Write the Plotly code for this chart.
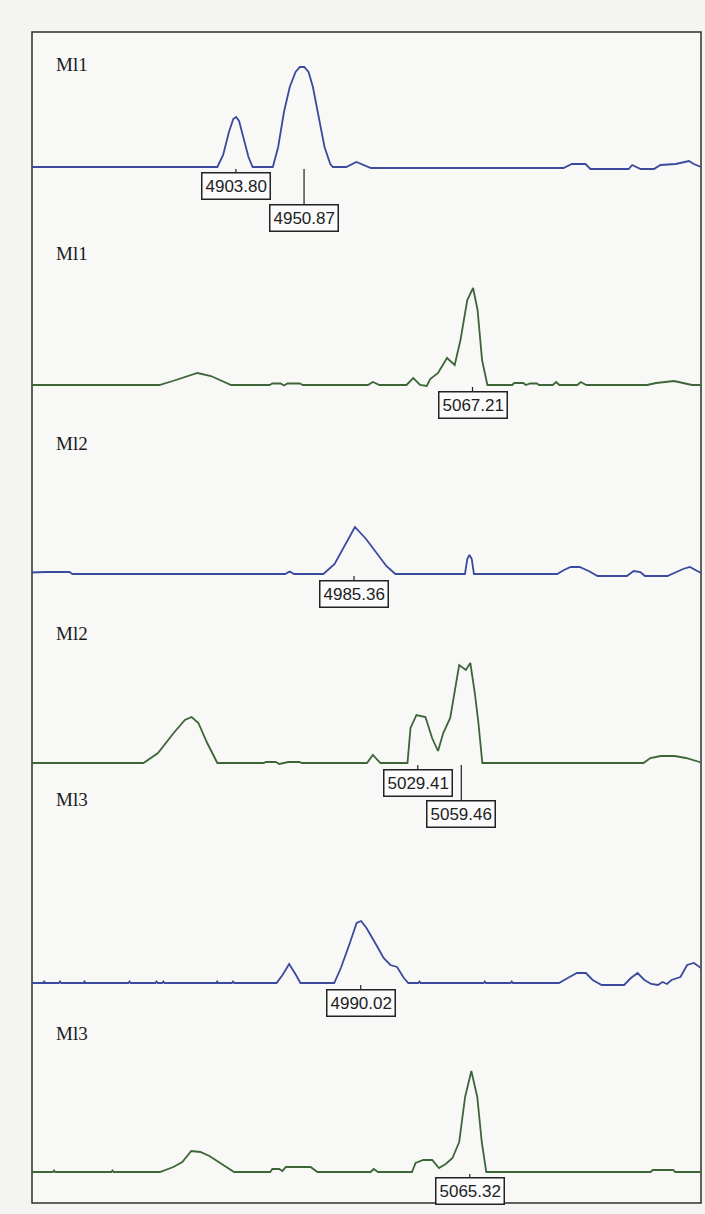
import plotly.graph_objects as go

# ---------------- data (m/z, relative intensity) ----------------
panel_labels = ["Ml1", "Ml1", "Ml2", "Ml2", "Ml3", "Ml3"]

m1 = [4763, 4891, 4895, 4899, 4902, 4904, 4906, 4909, 4912.5, 4915.4, 4929.3, 4933, 4937,
      4941, 4945, 4948, 4951, 4954, 4957, 4961, 4965, 4969, 4970.8, 4980, 4987, 4997, 5130,
      5135.9, 5145.2, 5148.6, 5175, 5177.5, 5183.3, 5192.5, 5197, 5207.5, 5216.7, 5220, 5225]
i1 = [0, 0, 12, 35, 48, 50, 46, 30, 10, 0, 0, 20, 55,
      80, 95, 100, 100, 95, 80, 50, 20, 3, 0, 0, 5, -1, -1,
      3, 3, -2, -2, 2, -2, -2, 2, 3, 6, 3, 0]

m2 = [4763, 4850.9, 4860.2, 4868, 4877.3, 4886.6, 4895.9, 4900.5, 4927, 4929, 4934.7, 4937,
      4939.4, 4948, 4950, 4995, 4998.4, 5003, 5021.6, 5026.3, 5031, 5035.6, 5038, 5043.4,
      5049.6, 5054.9, 5058.9, 5063.6, 5067.6, 5070.7, 5073.8, 5077.5, 5094.6, 5096, 5102.3,
      5104, 5107, 5111.7, 5113.2, 5122.6, 5125, 5127.2, 5139.6, 5142, 5145.8, 5187.8, 5194,
      5203.3, 5206.4, 5212.6, 5218.8, 5225]
i2 = [0, 0, 4, 8, 12, 9, 3, 0, 0, 1.5, 1.5, -0.5,
      1.5, 1.5, 0, 0, 3, 0, 0, 7, 0, -1, 6, 12,
      27, 20, 45, 85, 97, 75, 25, 0, 0, 2, 2,
      0, 1.5, 1.5, 0, 0, 3, 0, 0, 3, 0, 0, 2,
      3, 4, 2, 0, 0]

m3 = [4763, 4771.7, 4788.8, 4791, 4937.8, 4941, 4944, 4964.2, 4972, 4979.7, 4986, 4993.7,
      5001.5, 5007.7, 5013.9, 5062, 5063.6, 5065.1, 5066.7, 5068.2, 5125.7, 5130.4, 5135,
      5141.2, 5147.4, 5153.6, 5173.8, 5178.5, 5183.1, 5186.3, 5201.8, 5206.4, 5212.6, 5217.3,
      5222, 5225]
i3 = [1.5, 2, 2, 0, 0, 2.5, 0, 0, 10, 30, 47, 35,
      20, 8, 0, 0, 15, 19, 15, 0, 0, 4, 7,
      7, 3, -2, -2, 3, 2, -2, -2, 1, 5, 7,
      3, 1]

m4 = [4763, 4840, 4850, 4860.8, 4868.6, 4873.2, 4877.9, 4884, 4891, 4923, 4924.5, 4931.3,
      4933.8, 4940, 4947.7, 4949.3, 4994.3, 4998.4, 5003.6, 5022.3, 5024.4, 5028.5, 5034.7,
      5039.3, 5043.4, 5047, 5051.8, 5054.9, 5058, 5062.6, 5065.7, 5068.8, 5071.3, 5074,
      5185.3, 5190, 5197.2, 5206.8, 5214.5, 5224, 5225]
i4 = [0, 0, 10, 30, 43, 46, 40, 20, 0, 0, 1, 1,
      -1, 1, 1, 0, 0, 8, 0, 0, 35, 48, 46,
      25, 12, 30, 45, 70, 98, 93, 100, 70, 40, 0,
      0, 5, 7, 7, 5, 1, 0]

m5 = [4763, 4770.6, 4771.4, 4772.2, 4781.5, 4782.3, 4783.1, 4798.5, 4799.3, 4800.1, 4829.6,
      4830.4, 4831.2, 4848.2, 4849.0, 4849.8, 4852.9, 4853.7, 4854.5, 4890.1, 4890.9, 4891.7,
      4901.0, 4901.8, 4902.6, 4931.9, 4936.0, 4940.6, 4945.3, 4948.4, 4971.7, 4976.3, 4982.5,
      4987.2, 4990.3, 4994.0, 5001.2, 5005.8, 5010.5, 5015.1, 5019.8, 5022.9, 5029.8, 5030.6,
      5031.4, 5074.9, 5075.7, 5076.5, 5093.5, 5094.3, 5095.1, 5126.9, 5133.0, 5139.3, 5145.5,
      5150.2, 5156.4, 5171.9, 5176.6, 5181.2, 5185.9, 5190.6, 5195.3, 5198.4, 5201.5, 5204.6,
      5210.8, 5215.4, 5220.1, 5225]
i5 = [0, 0, 1.5, 0, 0, 1.5, 0, 0, 1.5, 0, 0,
      1.5, 0, 0, 1.5, 0, 0, 1.5, 0, 0, 1.5, 0,
      0, 1.5, 0, 0, 8, 19, 8, 0, 0, 15, 40,
      60, 62, 55, 37, 25, 18, 16, 5, 0, 0, 1.5,
      0, 0, 1.5, 0, 0, 1.5, 0, 0, 5, 10, 10,
      3, -2, -2, 5, 10, 3, -1, -2, 1, -1, 3,
      6, 18, 20, 15]

m6 = [4763, 4777.4, 4778.2, 4779, 4817.8, 4818.6, 4819.4, 4851.3, 4860.6, 4866.8, 4873,
      4879.3, 4885.5, 4891.7, 4898, 4902.6, 4927.5, 4929, 4933.7, 4935.9, 4938.3, 4955.4,
      4960.1, 4996.8, 4999, 5002, 5025.4, 5027.9, 5033.2, 5039.4, 5044, 5048.7, 5053.4, 5058,
      5062.1, 5066.4, 5070.5, 5073.6, 5076.7, 5190.2, 5191.7, 5205.7, 5207.3, 5225]
i6 = [0, 0, 1.5, 0, 0, 1.5, 0, 0, 5, 10, 21,
      20, 16, 10, 4, 0, 0, 3, 3, 1, 5, 5,
      0, 0, 3, 0, 0, 9, 12, 12, 4, 8, 14, 30,
      75, 101, 75, 30, 0, 0, 2, 2, 0, 0]

# labelled peaks: (panel index, m/z)
peak_panel = [0, 0, 1, 2, 3, 3, 4, 5]
peak_mass = [4903.80, 4950.87, 5067.21, 4985.36, 5029.41, 5059.46, 4990.02, 5065.32]
peak_text = ["4903.80", "4950.87", "5067.21", "4985.36", "5029.41", "5059.46", "4990.02", "5065.32"]

# ---------------- layout helpers ----------------
W, H = 705, 1214
FRAME_L, FRAME_R, FRAME_T, FRAME_B = 32, 701, 32, 1203
BLUE = "#3b4a9c"
GREEN = "#3d6638"
colors = [BLUE, GREEN, BLUE, GREEN, BLUE, GREEN]
series = [(m1, i1), (m2, i2), (m3, i3), (m4, i4), (m5, i5), (m6, i6)]

# pixel bands for each panel: (top, bottom, baseline)
bands = [(32, 225, 167), (225, 420, 385), (420, 610, 574),
         (610, 790, 763), (790, 1010, 983), (1010, 1203, 1172)]
label_y = [65, 253, 443, 633, 800, 1033]
box_offset = [19, 51, 20, 20, 20, 51, 20, 19]

fig = go.Figure()
layout = dict(
    width=W, height=H,
    margin=dict(l=0, r=0, t=0, b=0),
    paper_bgcolor="#f4f4f3",
    plot_bgcolor="rgba(0,0,0,0)",
    showlegend=False,
    xaxis=dict(domain=[FRAME_L / W, FRAME_R / W], range=[4763, 5225], visible=False,
               fixedrange=True),
)

for k, ((mx, iy), col) in enumerate(zip(series, colors)):
    ya = "y" if k == 0 else f"y{k+1}"
    fig.add_trace(go.Scatter(x=mx, y=iy, mode="lines", xaxis="x", yaxis=ya,
                             line=dict(color=col, width=1.8), hoverinfo="skip"))
    top, bot, base = bands[k]
    key = "yaxis" if k == 0 else f"yaxis{k+1}"
    layout[key] = dict(domain=[1 - bot / H, 1 - top / H], range=[-(bot - base), base - top],
                       visible=False, anchor="x", fixedrange=True)

fig.update_layout(**layout)

# frame
fig.add_shape(type="rect", xref="paper", yref="paper",
              x0=FRAME_L / W, x1=FRAME_R / W, y0=1 - FRAME_B / H, y1=1 - FRAME_T / H,
              line=dict(color="#2e2e2e", width=1.5), fillcolor="#f8f8f7", layer="below")

# panel labels
for txt, ly in zip(panel_labels, label_y):
    fig.add_annotation(x=54 / W, y=1 - ly / H, xref="paper", yref="paper",
                       text=txt, showarrow=False, xanchor="left", yanchor="middle",
                       font=dict(family="Liberation Serif, Times New Roman, serif",
                                 size=19, color="#1a1a1a"))

# peak labels
for p, mz, txt, off in zip(peak_panel, peak_mass, peak_text, box_offset):
    ya = "y" if p == 0 else f"y{p+1}"
    fig.add_annotation(x=mz, y=0, xref="x", yref=ya, text=txt,
                       showarrow=True, arrowhead=0, arrowwidth=1.2, arrowcolor="#222",
                       ax=0, ay=off, standoff=2,
                       bordercolor="#222", borderwidth=1.5, borderpad=3, bgcolor="#fbfbfb",
                       font=dict(family="Liberation Sans, Arial, sans-serif", size=17,
                                 color="#222"))

fig.write_html("out.html")
